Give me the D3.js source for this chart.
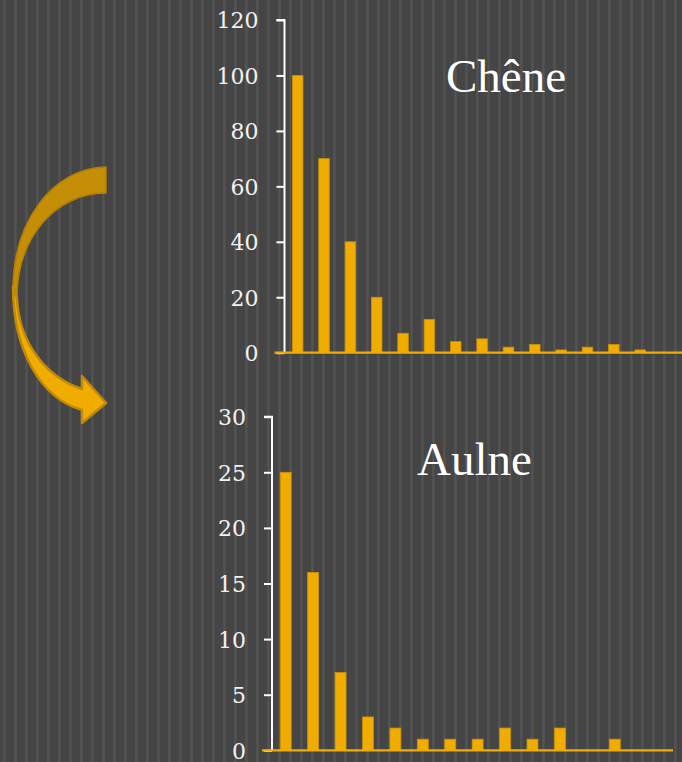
<!DOCTYPE html>
<html>
<head>
<meta charset="utf-8">
<script src="https://cdn.jsdelivr.net/npm/d3@7"></script>
<style>
  html, body { margin: 0; padding: 0; background: #454545; }
  svg { display: block; }
</style>
</head>
<body>
<svg id="chart" width="682" height="762"></svg>
<script>
// ---- data ----
const categories = ["1","2","3","4","5","6","7","8","9","10","11","12","13","14","15"];
const cheneValues = [100, 70, 40, 20, 7, 12, 4, 5, 2, 3, 1, 2, 3, 1, 0];
const aulneValues = [25, 16, 7, 3, 2, 1, 1, 1, 2, 1, 2, 0, 1, 0, 0];
const cheneTicks = [0, 20, 40, 60, 80, 100, 120];
const aulneTicks = [0, 5, 10, 15, 20, 25, 30];
const titles = ["Chêne", "Aulne"];

const W = 682, H = 762;
const svg = d3.select("#chart");

// background with vertical stripes
const defs = svg.append("defs");
const pat = defs.append("pattern").attr("id", "stripes")
  .attr("patternUnits", "userSpaceOnUse").attr("width", 11).attr("height", 10);
pat.append("rect").attr("width", 11).attr("height", 10).attr("fill", "#454545");
pat.append("rect").attr("x", 3.3).attr("width", 2.2).attr("height", 10).attr("fill", "#545454");
svg.append("rect").attr("width", W).attr("height", H).attr("fill", "url(#stripes)");

const GOLD = "#F0AC00";

function drawChart(cfg) {
  const g = svg.append("g");
  const x = d3.scaleBand().domain(categories).range(cfg.xRange)
    .paddingInner(0.6).paddingOuter(0.3);
  const y = d3.scaleLinear().domain(cfg.yDomain).range(cfg.yRange);

  // bars
  g.selectAll("rect.bar").data(cfg.values).enter().append("rect")
    .attr("class", "bar")
    .attr("x", (d, i) => x(categories[i]))
    .attr("width", x.bandwidth())
    .attr("y", d => y(d))
    .attr("height", d => y(0) - y(d))
    .attr("fill", GOLD)
    .attr("stroke", d => d > 0 ? "#c99200" : "none")
    .attr("stroke-width", 0.8);

  // y axis
  const yAxis = d3.axisLeft(y).tickValues(cfg.ticks).tickSize(8).tickPadding(18)
    .tickFormat(d3.format("d"));
  const ya = g.append("g").attr("transform", `translate(${cfg.xRange[0]},0)`).call(yAxis);
  ya.select(".domain").attr("stroke", "#ffffff").attr("stroke-width", 2)
    .attr("d", `M-8,${y(cfg.yDomain[1])}H0V${y(0)}`);
  ya.selectAll(".tick line").attr("stroke", "#ffffff").attr("stroke-width", 2);
  ya.selectAll(".tick text")
    .attr("fill", "#f2f2f2")
    .attr("font-family", "'DejaVu Serif', serif")
    .attr("font-size", 22)
    .attr("dy", "0.36em");

  // x axis (baseline)
  g.append("line")
    .attr("x1", cfg.xRange[0] - 10).attr("x2", cfg.xAxisEnd)
    .attr("y1", y(0)).attr("y2", y(0))
    .attr("stroke", GOLD).attr("stroke-width", 2.2);

  // title
  g.append("text")
    .attr("x", cfg.titlePos[0]).attr("y", cfg.titlePos[1])
    .attr("fill", "#ffffff")
    .attr("font-family", "'Liberation Serif', serif")
    .attr("font-size", 47)
    .text(cfg.title);
}

drawChart({
  values: cheneValues, ticks: cheneTicks, title: titles[0],
  xRange: [284.5, 679.7], yDomain: [0, 120], yRange: [352.7, 20],
  xAxisEnd: 684, titlePos: [446, 92]
});
drawChart({
  values: aulneValues, ticks: aulneTicks, title: titles[1],
  xRange: [272, 683.3], yDomain: [0, 30], yRange: [750.3, 416.7],
  xAxisEnd: 673, titlePos: [417, 475]
});

// curved arrow (decoration)
const arrow = svg.append("g");
arrow.append("path")
  .attr("d", "M106,167 C52,168 13,222 13,290 L17,298 C17,238 55,193 106,193 Z")
  .attr("fill", "#c48e06").attr("stroke", "#b07f04").attr("stroke-width", 1.5)
  .attr("stroke-linejoin", "round");
arrow.append("path")
  .attr("d", "M13,286 C13,350 40,398 82,410 L82,423 L106,403 L82,376 L82,389 C48,378 19,345 17,298 Z")
  .attr("fill", GOLD).attr("stroke", "#c08a04").attr("stroke-width", 2.5)
  .attr("stroke-linejoin", "round");
</script>
</body>
</html>
